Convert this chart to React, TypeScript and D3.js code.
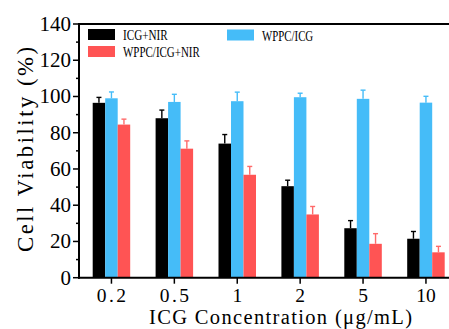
import React, { useEffect, useRef } from 'react';
import * as d3 from 'd3';

// concentrations (µg/mL) and cell viability (%)
const concentrations = ['0.2', '0.5', '1', '2', '5', '10'];
const icgNir = [96.5, 88, 74, 50.5, 27.3, 21.5];
const icgNirErr = [3, 4.5, 5, 3.3, 4.2, 4];
const wppcIcg = [99, 97, 97.4, 99.6, 98.7, 96.6];
const wppcIcgErr = [3.5, 4.2, 5, 2.2, 4.8, 3.5];
const wppcIcgNir = [84.5, 71.2, 56.8, 34.9, 18.7, 14];
const wppcIcgNirErr = [3, 4.3, 4.6, 4.4, 5.6, 3.3];
const yTicks = [0, 20, 40, 60, 80, 100, 120, 140];
const yMinorTicks = [10, 30, 50, 70, 90, 110, 130];

const series = [
  { name: 'ICG+NIR', values: icgNir, err: icgNirErr, color: '#000000', errColor: '#000000' },
  { name: 'WPPC/ICG', values: wppcIcg, err: wppcIcgErr, color: '#45BCF8', errColor: '#45BCF8' },
  { name: 'WPPC/ICG+NIR', values: wppcIcgNir, err: wppcIcgNirErr, color: '#FF5454', errColor: '#FF6A6A' },
];

const W = 449;
const H = 329;
const SERIF = "'Liberation Serif', 'Times New Roman', serif";

// SimSun-like text: serif glyphs fitted to a half-width advance per char
function simText(sel: any, str: string, size: number, adjust = 'spacing', scale = 1) {
  sel.attr('font-family', SERIF)
    .attr('font-size', size * scale)
    .attr('textLength', str.length * size * 0.5)
    .attr('lengthAdjust', adjust)
    .text(str);
}

const Chart = () => {
  const ref = useRef<SVGSVGElement | null>(null);

  useEffect(() => {
    if (!ref.current) return;
    const svg = d3.select(ref.current);
    svg.selectAll('*').remove();

    const x = d3.scaleBand().domain(concentrations).range([80, 80 + 6 * 62.9]);
    const y = d3.scaleLinear().domain([0, 140]).range([277.7, 24]);
    const barW = 12.5;

    const g = svg.append('g');

    // bars
    series.forEach((s, si) => {
      const off = (si - 1.5) * barW;
      g.append('g').selectAll('rect')
        .data(s.values)
        .join('rect')
        .attr('x', (d, i) => x(concentrations[i])! + x.bandwidth() / 2 + off)
        .attr('y', d => y(d))
        .attr('width', barW)
        .attr('height', d => y(0) - y(d))
        .attr('fill', s.color);

      // error bars (upper only)
      const eg = g.append('g').attr('stroke', s.errColor).attr('stroke-width', 1.4);
      s.values.forEach((v, i) => {
        const cx = x(concentrations[i])! + x.bandwidth() / 2 + off + barW / 2;
        eg.append('line').attr('x1', cx).attr('x2', cx).attr('y1', y(v)).attr('y2', y(v + s.err[i]));
        eg.append('line').attr('x1', cx - 2.5).attr('x2', cx + 2.5).attr('y1', y(v + s.err[i])).attr('y2', y(v + s.err[i]));
      });
    });

    // frame / axes
    const ax = svg.append('g').attr('stroke', '#000').attr('stroke-width', 2).attr('fill', 'none');
    ax.append('line').attr('x1', 79).attr('x2', 79).attr('y1', 23).attr('y2', 278.7);
    ax.append('line').attr('x1', 78).attr('x2', W + 10).attr('y1', y(0)).attr('y2', y(0));
    ax.append('line').attr('x1', 78).attr('x2', W + 10).attr('y1', y(140)).attr('y2', y(140));

    yTicks.forEach(t => {
      ax.append('line').attr('x1', 73).attr('x2', 79).attr('y1', y(t)).attr('y2', y(t)).attr('stroke-width', 1.5);
      svg.append('text')
        .attr('x', 71).attr('y', y(t) + 7)
        .attr('text-anchor', 'end')
        .attr('font-family', SERIF).attr('font-size', 21)
        .text(t);
    });
    yMinorTicks.forEach(t => {
      ax.append('line').attr('x1', 76).attr('x2', 79).attr('y1', y(t)).attr('y2', y(t)).attr('stroke-width', 1.5);
    });

    concentrations.forEach(c => {
      const cx = x(c)! + x.bandwidth() / 2;
      ax.append('line').attr('x1', cx).attr('x2', cx).attr('y1', y(0)).attr('y2', y(0) + 6).attr('stroke-width', 1.5);
      const t = svg.append('text').attr('x', cx).attr('y', 302).attr('text-anchor', 'middle');
      if (c.includes('.')) simText(t, c, 19.5);
      else t.attr('font-family', SERIF).attr('font-size', 19.5).text(c);
    });

    // axis titles
    const xt = svg.append('text').attr('x', 149).attr('y', 324);
    xt.attr('font-family', SERIF).attr('font-size', 20.5)
      .attr('textLength', 263).attr('lengthAdjust', 'spacing')
      .text('ICG Concentration (μg/mL)');
    const yt = svg.append('text').attr('transform', 'translate(33,252) rotate(-90)');
    simText(yt, 'Cell Viability (%)', 22.8);

    // legend
    const legend = [
      { s: series[0], x: 88, y: 29, tx: 123, ty: 39.5 },
      { s: series[2], x: 88, y: 46, tx: 123, ty: 57 },
      { s: series[1], x: 227, y: 29.5, tx: 262, ty: 40.5 },
    ];
    legend.forEach(l => {
      svg.append('rect').attr('x', l.x).attr('y', l.y).attr('width', 27).attr('height', 11).attr('fill', l.s.color);
      const t = svg.append('text').attr('x', l.tx).attr('y', l.ty);
      simText(t, l.s.name, 12.8, 'spacingAndGlyphs', 1.1);
    });
  }, []);

  return (
    <svg ref={ref} width={W} height={H} style={{ position: 'absolute', left: 0, top: 0, background: '#fff' }} />
  );
};

export default function App() {
  return <Chart />;
}
